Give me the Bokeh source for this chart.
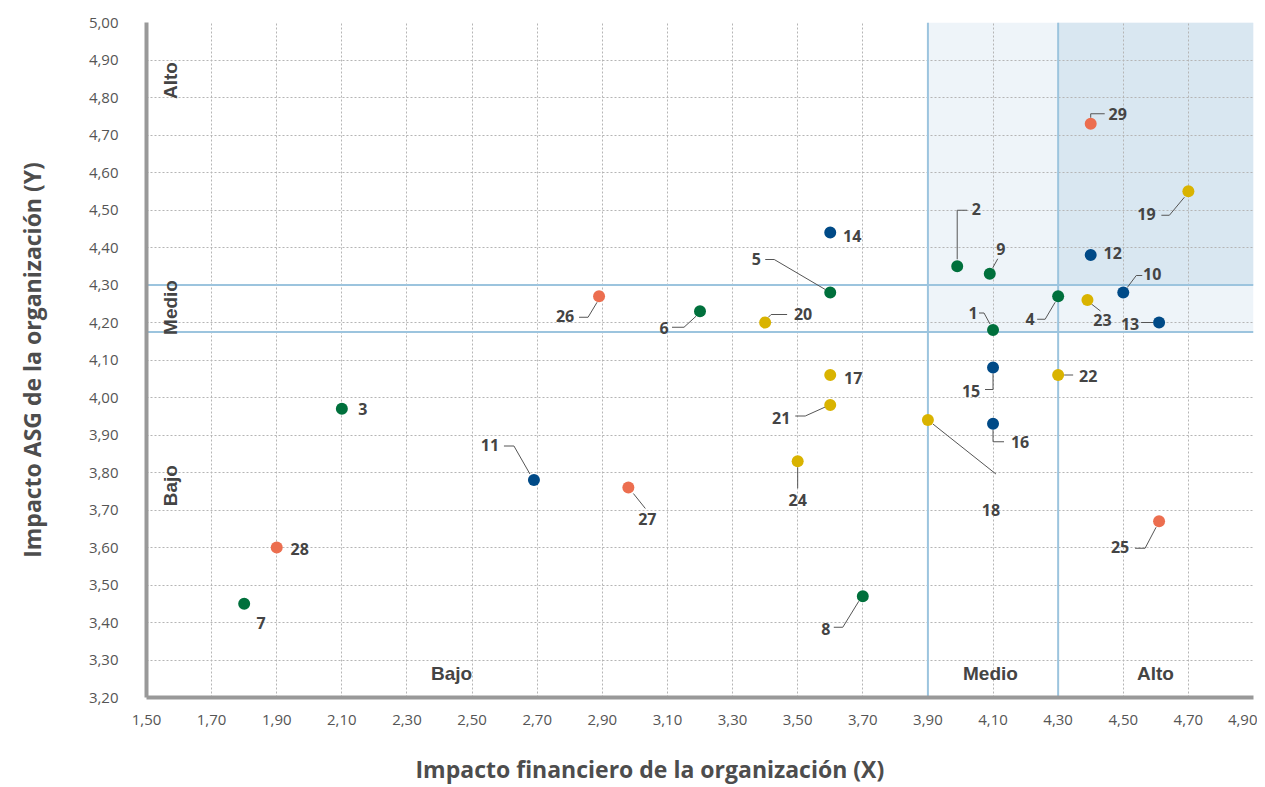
import math
from bokeh.plotting import figure
from bokeh.models import (FixedTicker, CustomJSTickFormatter, Span, BoxAnnotation,
                          ColumnDataSource, Title)
from bokeh.embed import file_html
from bokeh.resources import INLINE
from bokeh.core.properties import value

# ---------------- data ----------------
ids = [str(i) for i in range(1, 30)]
x_vals = [4.10, 3.99, 2.10, 4.30, 3.60, 3.20, 1.80, 3.70, 4.09,
          4.50, 2.69, 4.40, 4.61, 3.60, 4.10, 4.10,
          3.60, 3.90, 4.70, 3.40, 3.60, 4.30, 4.39, 3.50,
          4.61, 2.89, 2.98, 1.90, 4.40]
y_vals = [4.18, 4.35, 3.97, 4.27, 4.28, 4.23, 3.45, 3.47, 4.33,
          4.28, 3.78, 4.38, 4.20, 4.44, 4.08, 3.93,
          4.06, 3.94, 4.55, 4.20, 3.98, 4.06, 4.26, 3.83,
          3.67, 4.27, 3.76, 3.60, 4.73]
groups = ["g"] * 9 + ["b"] * 7 + ["y"] * 8 + ["o"] * 5

x_ticks = [1.5, 1.7, 1.9, 2.1, 2.3, 2.5, 2.7, 2.9, 3.1, 3.3, 3.5, 3.7, 3.9,
           4.1, 4.3, 4.5, 4.7, 4.9]
y_ticks = [3.2, 3.3, 3.4, 3.5, 3.6, 3.7, 3.8, 3.9, 4.0, 4.1, 4.2, 4.3, 4.4,
           4.5, 4.6, 4.7, 4.8, 4.9, 5.0]

x_cuts = [3.9, 4.3]
y_cuts = [4.175, 4.30]

x_title = "Impacto financiero de la organización (X)"
y_title = "Impacto ASG de la organización (Y)"
levels = ["Bajo", "Medio", "Alto"]

# ---------------- style ----------------
COLORS = {"g": "#00703c", "b": "#004a87", "y": "#d9b300", "o": "#ec6e4f"}
X0, X1, Y0, Y1 = 1.5, 4.9, 3.2, 5.0
FW, FH = 1107, 675
PX = FW / (X1 - X0)
PY = FH / (Y1 - Y0)

# label layout: pixel offset of label centre from marker, leader path (pixels)
LAYOUT = {
    "1": ((-20, -17), [(-14, -17), (-9, -17), (-3, -6)]),
    "2": ((19, -57), [(0, -7), (0, -56), (10, -56)]),
    "3": ((21, 0), None),
    "4": ((-28, 23), [(-21, 23), (-13, 23), (-3, 6)]),
    "5": ((-74, -34), [(-65, -33), (-56, -33), (-5, -3)]),
    "6": ((-36, 17), [(-28, 16), (-16, 16), (-4, 5)]),
    "7": ((17, 19), None),
    "8": ((-37, 33), [(-29, 31), (-20, 31), (-4, 5)]),
    "9": ((11, -25), [(3, -6), (8, -15)]),
    "10": ((29, -19), [(4, -5), (13, -17), (19, -17)]),
    "11": ((-44, -35), [(-30, -34), (-20, -34), (-4, -6)]),
    "12": ((22, -2), None),
    "13": ((-29, 1), [(-18, 0), (-6, 0)]),
    "14": ((22, 3), None),
    "15": ((-22, 23), [(0, 6), (0, 22), (-8, 22)]),
    "16": ((27, 18), [(0, 6), (0, 18), (11, 18)]),
    "17": ((23, 3), None),
    "18": ((63, 90), [(5, 4), (68, 54)]),
    "19": ((-42, 23), [(-27, 24), (-19, 24), (-4, 6)]),
    "20": ((38, -9), [(3, -5), (6, -8), (22, -8)]),
    "21": ((-49, 13), [(-35, 11), (-25, 11), (-5, 2)]),
    "22": ((30, 1), [(6, 0), (15, 0)]),
    "23": ((15, 20), [(4, 4), (13, 11)]),
    "24": ((0, 39), [(0, 6), (0, 27)]),
    "25": ((-39, 26), [(-24, 27), (-14, 27), (-3, 6)]),
    "26": ((-34, 20), [(-20, 21), (-11, 21), (-2, 6)]),
    "27": ((19, 31), [(5, 6), (17, 21)]),
    "28": ((23, 1), None),
    "29": ((27, -10), [(0, -6), (0, -10), (14, -10)]),
}

p = figure(frame_width=FW, frame_height=FH, x_range=(X0, X1), y_range=(Y0, Y1),
           output_backend="svg", toolbar_location=None,
           min_border_left=146, min_border_top=22, min_border_right=4,
           min_border_bottom=86, outline_line_color=None,
           background_fill_color="white", border_fill_color="white")

# shading
p.add_layout(BoxAnnotation(left=x_cuts[0], right=X1, bottom=y_cuts[0], top=Y1,
                           fill_color="#eef4f9", fill_alpha=1, line_color=None,
                           level="image"))
p.add_layout(BoxAnnotation(left=x_cuts[1], right=X1, bottom=y_cuts[1], top=Y1,
                           fill_color="#d9e7f1", fill_alpha=1, line_color=None,
                           level="image"))

# grid
for g in (p.xgrid, p.ygrid):
    g.grid_line_color = "#b5b5b5"
    g.grid_line_dash = "2 2"
    g.grid_line_width = 1

for xc in x_cuts:
    p.add_layout(Span(location=xc, dimension="height", line_color="#9cc4de",
                      line_width=2, level="underlay"))
for yc in y_cuts:
    p.add_layout(Span(location=yc, dimension="width", line_color="#9cc4de",
                      line_width=2, level="underlay"))

# axes
fmt = CustomJSTickFormatter(code="return tick.toFixed(2).replace('.', ',');")
p.xaxis.ticker = FixedTicker(ticks=x_ticks)
p.yaxis.ticker = FixedTicker(ticks=y_ticks)
for ax in (p.xaxis, p.yaxis):
    ax.formatter = fmt
    ax.axis_line_color = "#999999"
    ax.axis_line_width = 4
    ax.major_tick_line_color = None
    ax.minor_tick_line_color = None
    ax.major_label_text_font = "Open Sans"
    ax.major_label_text_font_size = "15px"
    ax.major_label_text_color = "#555555"
    ax.axis_label_text_font = "Open Sans"
    ax.axis_label_text_font_style = "bold"
    ax.axis_label_text_font_size = "23px"
    ax.axis_label_text_color = "#4d4d4d"
p.yaxis.axis_label = y_title
p.yaxis.major_label_standoff = 22
p.yaxis.axis_label_standoff = 38
p.xaxis.major_label_standoff = 11

p.add_layout(Title(text=x_title, align="left", offset=269, standoff=46,
                   text_font="Open Sans", text_font_style="bold",
                   text_font_size="23px", text_color="#4d4d4d"), "below")

# leader lines
lx, ly, lxs, lys = [], [], [], []
for i, xv, yv in zip(ids, x_vals, y_vals):
    (dx, dy), path = LAYOUT[i]
    lx.append(xv + dx / PX)
    ly.append(yv - dy / PY)
    if path:
        lxs.append([xv + a / PX for a, b in path])
        lys.append([yv - b / PY for a, b in path])
p.multi_line(xs=lxs, ys=lys, line_color="#555555", line_width=1)

src = ColumnDataSource(dict(x=x_vals, y=y_vals, c=[COLORS[g] for g in groups],
                            lx=lx, ly=ly, t=ids))
p.scatter("x", "y", source=src, size=12, fill_color="c", line_color=None)
p.text("lx", "ly", text="t", source=src, text_font=value("Open Sans"),
       text_font_style="bold", text_font_size="16px", text_color="#444444",
       text_align="center", text_baseline="middle")

# quadrant labels
side_y = [3.765, 4.24, 4.845]
bottom_x = [2.437, 4.092, 4.599]
p.text(x=[1.574] * 3, y=side_y, text=levels, angle=math.pi / 2,
       text_font=value("Liberation Sans"), text_font_style="bold",
       text_font_size="19px", text_color="#444444",
       text_align="center", text_baseline="middle")
p.text(x=bottom_x, y=[3.264] * 3, text=levels,
       text_font=value("Liberation Sans"), text_font_style="bold",
       text_font_size="19px", text_color="#444444",
       text_align="center", text_baseline="middle")

open("out.html", "w").write(file_html(p, INLINE))
